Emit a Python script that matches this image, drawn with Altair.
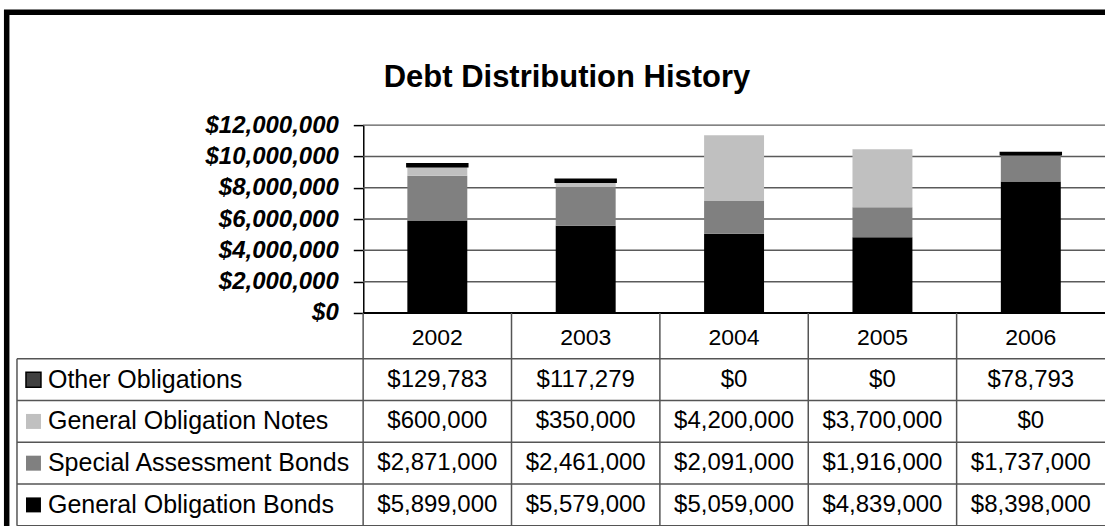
import altair as alt
import pandas as pd

# ---------------- data ----------------
years = [2002, 2003, 2004, 2005, 2006]
series = [
    "Other Obligations",
    "General Obligation Notes",
    "Special Assessment Bonds",
    "General Obligation Bonds",
]
other_obligations = [129783, 117279, 0, 0, 78793]
go_notes = [600000, 350000, 4200000, 3700000, 0]
sa_bonds = [2871000, 2461000, 2091000, 1916000, 1737000]
go_bonds = [5899000, 5579000, 5059000, 4839000, 8398000]
colors = ["#404040", "#C0C0C0", "#808080", "#000000"]
y_ticks = [0, 2000000, 4000000, 6000000, 8000000, 10000000, 12000000]
title_text = "Debt Distribution History"

FONT = "Liberation Sans"
BAR_HALF = 0.202          # half bar width in column units
LEFT = -2.333             # left edge of the table (label column), column units
RIGHT = 5.0

values = dict(zip(series, [other_obligations, go_notes, sa_bonds, go_bonds]))
stack_seq = list(reversed(series))  # bottom -> top

rows = []
for i, yr in enumerate(years):
    base = 0
    for s in stack_seq:
        v = values[s][i]
        rows.append(dict(year=str(yr), series=s, value=v,
                         xa=i + 0.5 - BAR_HALF, xb=i + 0.5 + BAR_HALF, xc=i + 0.5,
                         y0=base, y1=base + v, row=series.index(s) + 1))
        base += v
df = pd.DataFrame(rows)

hdr_df = pd.DataFrame({"year": [str(y) for y in years],
                       "xc": [i + 0.5 for i in range(len(years))],
                       "row": [0] * len(years)})
grid_df = pd.DataFrame({"v": y_ticks[1:], "x0": 0, "x1": RIGHT})
zero_df = pd.DataFrame({"v": [0], "x0": [0], "x1": [RIGHT]})
hline_df = pd.DataFrame({"row": [1, 2, 3, 4, 5], "x0": LEFT, "x1": RIGHT})
vline_df = pd.DataFrame({"x": [LEFT, 0, 1, 2, 3, 4],
                         "r0": [1, -0.1, -0.1, -0.1, -0.1, -0.1],
                         "r1": [5, 5, 5, 5, 5, 5]})
lab_df = pd.DataFrame({"series": series, "row": [1, 2, 3, 4]})

# ---------------- scales ----------------
xscale = alt.Scale(domain=[LEFT, RIGHT], nice=False, zero=False)
bscale = alt.Scale(domain=[0, 12000000], range=[188, 0], nice=False, zero=False)
tscale = alt.Scale(domain=[-0.1, 5], range=[188, 401], nice=False, zero=False)
cscale = alt.Scale(domain=series, range=colors)

# ---------------- layers ----------------
frame = alt.Chart(pd.DataFrame({"k": [0]})).mark_rect(
    fillOpacity=0, stroke="black", strokeWidth=5.5
).encode(x=alt.value(-10.3), x2=alt.value(1130), y=alt.value(-113), y2=alt.value(440))

title = alt.Chart(pd.DataFrame({"t": [title_text]})).mark_text(
    font=FONT, fontSize=31, fontWeight="bold", align="center", baseline="alphabetic", color="black"
).encode(text="t:N", x=alt.value(550.5), y=alt.value(-38))

grid = alt.Chart(grid_df).mark_rule(color="#5a5a5a", strokeWidth=1.5).encode(
    x=alt.X("x0:Q", scale=xscale, axis=None), x2="x1:Q",
    y=alt.Y("v:Q", scale=bscale, axis=None),
)

bars = alt.Chart(df).transform_filter(
    "datum.value > 0 && datum.series != 'Other Obligations'"
).mark_rect().encode(
    x=alt.X("xa:Q", scale=xscale, axis=None), x2="xb:Q",
    y=alt.Y("y0:Q", scale=bscale, title=None, axis=alt.Axis(
        values=y_ticks, format="$,.0f", labelFont=FONT, labelFontSize=24,
        labelFontWeight="bold", labelFontStyle="italic", labelColor="black",
        tickColor="black", tickWidth=1.5, tickSize=10, domainColor="black",
        domainWidth=1.5, labelPadding=15, grid=False, offset=-346.6)),
    y2="y1:Q",
    color=alt.Color("series:N", scale=cscale, legend=None),
)

other = alt.Chart(df).transform_filter(
    "datum.value > 0 && datum.series == 'Other Obligations'"
).mark_rect(fill="#404040", stroke="black", strokeWidth=2.5).encode(
    x=alt.X("xa:Q", scale=xscale, axis=None), x2="xb:Q",
    y=alt.Y("y0:Q", scale=bscale, axis=None), y2="y1:Q",
)

zero = alt.Chart(zero_df).mark_rule(color="black", strokeWidth=2).encode(
    x=alt.X("x0:Q", scale=xscale, axis=None), x2="x1:Q",
    y=alt.Y("v:Q", scale=bscale, axis=None),
)

hlines = alt.Chart(hline_df).mark_rule(color="#555555", strokeWidth=1.5).encode(
    x=alt.X("x0:Q", scale=xscale, axis=None), x2="x1:Q",
    y=alt.Y("row:Q", scale=tscale, axis=None),
)

vlines = alt.Chart(vline_df).mark_rule(color="#555555", strokeWidth=1.5).encode(
    x=alt.X("x:Q", scale=xscale, axis=None),
    y=alt.Y("r0:Q", scale=tscale, axis=None), y2="r1:Q",
)

headers = alt.Chart(hdr_df).transform_calculate(yc="datum.row + 0.5").mark_text(
    font=FONT, fontSize=23, color="black", align="center", baseline="middle"
).encode(
    x=alt.X("xc:Q", scale=xscale, axis=None),
    y=alt.Y("yc:Q", scale=tscale, axis=None),
    text="year:N",
)

cells = alt.Chart(df).transform_calculate(yc="datum.row + 0.5").mark_text(
    font=FONT, fontSize=24, color="black", align="center", baseline="middle"
).encode(
    x=alt.X("xc:Q", scale=xscale, axis=None),
    y=alt.Y("yc:Q", scale=tscale, axis=None),
    text=alt.Text("value:Q", format="$,.0f"),
)

swatches = alt.Chart(lab_df).transform_calculate(yc="datum.row + 0.5").mark_square(
    size=225, filled=True, opacity=1, stroke="black"
).encode(
    x=alt.value(16.5),
    y=alt.Y("yc:Q", scale=tscale, axis=None),
    color=alt.Color("series:N", scale=cscale, legend=None),
    strokeWidth=alt.condition("datum.series == 'Other Obligations'", alt.value(1.5), alt.value(0)),
)

labels = alt.Chart(lab_df).transform_calculate(yc="datum.row + 0.5").mark_text(
    font=FONT, fontSize=25, color="black", align="left", baseline="middle"
).encode(
    x=alt.value(31),
    y=alt.Y("yc:Q", scale=tscale, axis=None),
    text="series:N",
)

chart = alt.layer(
    grid, bars, other, zero, hlines, vlines, headers, cells, swatches, labels, title, frame
).resolve_scale(y="independent", color="independent").properties(
    width=1089, height=401,
    padding={"left": 17, "top": 125, "right": 0, "bottom": 0},
    autosize=alt.AutoSizeParams(type="none"),
    background="white",
).configure(font=FONT, view=alt.ViewConfig(strokeWidth=0, stroke="transparent"))

chart.save("out.html", embed_options={"renderer": "svg", "actions": False})
